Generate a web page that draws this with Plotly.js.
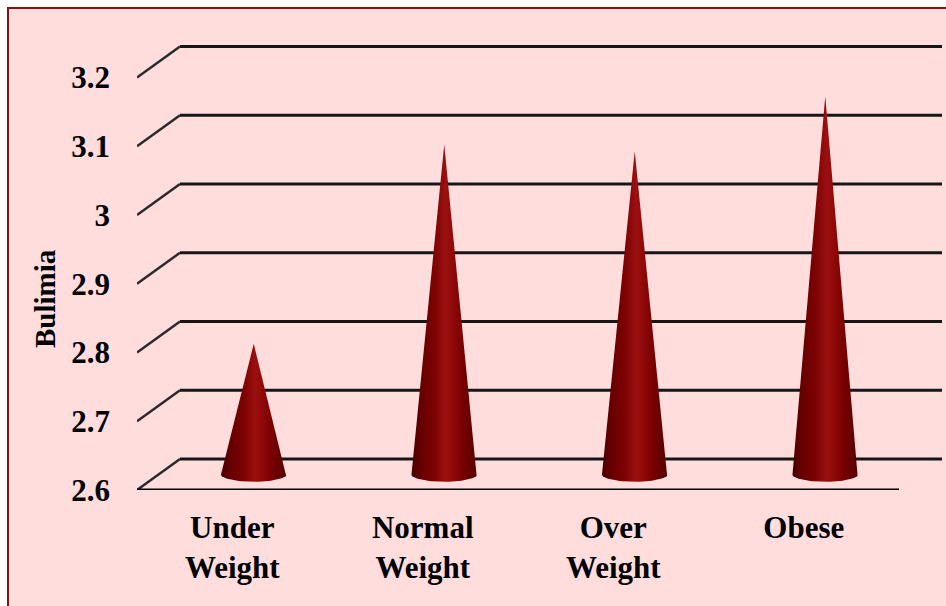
<!DOCTYPE html>
<html>
<head>
<meta charset="utf-8">
<script src="https://cdn.plot.ly/plotly-3.0.1.min.js"></script>
<style>html,body{margin:0;padding:0;background:#fff;}#chart{width:946px;height:606px;}</style>
</head>
<body>
<div id="chart"></div>
<script>
// ---- data ----
const categories = ['Under Weight', 'Normal Weight', 'Over Weight', 'Obese'];
const categoryLabels = ['Under<br>Weight', 'Normal<br>Weight', 'Over<br>Weight', 'Obese'];
const bulimia = [2.79, 3.08, 3.07, 3.15];
const yTicks = [2.6, 2.7, 2.8, 2.9, 3.0, 3.1, 3.2];
const yTickLabels = ['2.6', '2.7', '2.8', '2.9', '3', '3.1', '3.2'];

// ---- pseudo-3D geometry (style) ----
const FLOOR = 2.6;
const DX = 0.2257;     // depth offset along x (category units)
const DY = 0.0451;     // depth offset along y (value units)
const HALF = 0.172;    // cone base half width
const RY = 0.0105;     // cone base ellipse vertical radius
const X0 = -0.5, X1 = categories.length - 0.5;

const W = 946, H = 606;
const M = {l: 137, r: 4, t: 40, b: 116};
const PW = W - M.l - M.r, PH = H - M.t - M.b;
const YTOP = FLOOR + PH / 687.5;

const traces = [];

// back wall gridlines
const gx = [], gy = [];
yTicks.forEach(t => { gx.push(X0 + DX, X1 + DX, null); gy.push(t + DY, t + DY, null); });
traces.push({x: gx, y: gy, mode: 'lines', line: {color: '#161616', width: 3}, hoverinfo: 'skip', showlegend: false, cliponaxis: false});

// side diagonals
const dxs = [], dys = [];
yTicks.forEach(t => { dxs.push(X0, X0 + DX, null); dys.push(t, t + DY, null); });
traces.push({x: dxs, y: dys, mode: 'lines', line: {color: '#2a2a2a', width: 2.5}, hoverinfo: 'skip', showlegend: false, cliponaxis: false});

// front floor edge
traces.push({x: [X0, X1], y: [FLOOR, FLOOR], mode: 'lines', line: {color: '#000', width: 3}, hoverinfo: 'skip', showlegend: false, cliponaxis: false});

// cones
const coneScale = [
  [0, '#480000'], [0.12, '#620000'], [0.35, '#7e0202'], [0.52, '#9a1010'],
  [0.6, '#940b0b'], [0.78, '#780000'], [1, '#540000']
];
bulimia.forEach((v, i) => {
  const cx = i + DX / 2, cy = FLOOR + DY / 2;
  const xs = [cx], ys = [v + DY / 2];
  const N = 40;
  for (let k = 0; k <= N; k++) {
    const a = Math.PI * k / N;
    xs.push(cx + HALF * Math.cos(a));
    ys.push(cy - RY * Math.sin(a));
  }
  xs.push(cx); ys.push(v + DY / 2);
  traces.push({
    x: xs, y: ys, mode: 'lines', fill: 'toself',
    line: {width: 0, color: '#6a0000'},
    fillcolor: '#8b0000',
    fillgradient: {type: 'horizontal', colorscale: coneScale, start: cx - HALF, stop: cx + HALF},
    name: categories[i], hoverinfo: 'skip', showlegend: false
  });
});

// background frame in paper coords from pixel values
const px = p => (p - M.l) / PW;
const py = p => (H - M.b - p) / PH;

const fam = 'Liberation Serif, Times New Roman, serif';
const yFont = {family: fam, size: 31, color: '#000', weight: 700};
const xFont = {family: fam, size: 31, color: '#000', weight: 700};

const layout = {
  width: W, height: H,
  margin: M,
  paper_bgcolor: '#ffffff',
  plot_bgcolor: 'rgba(0,0,0,0)',
  showlegend: false,
  hovermode: false,
  font: {family: fam, size: 30, color: '#000'},
  xaxis: {
    range: [X0, X1 + DX], tickvals: categories.map((c, i) => i), ticktext: categoryLabels,
    showgrid: false, zeroline: false, showline: false, ticks: '', tickfont: xFont,
    ticklabelstandoff: 16, fixedrange: true
  },
  yaxis: {
    range: [FLOOR, YTOP], tickvals: yTicks, ticktext: yTickLabels,
    showgrid: false, zeroline: false, showline: false, ticks: '', tickfont: yFont,
    ticklabelstandoff: 26, fixedrange: true
  },
  shapes: [{
    type: 'rect', xref: 'paper', yref: 'paper', layer: 'below',
    x0: px(8), x1: px(965), y0: py(625), y1: py(8),
    fillcolor: '#ffdddd', line: {color: '#8b1010', width: 2}
  }],
  annotations: [{
    xref: 'paper', yref: 'paper', x: px(45), y: py(299), text: 'Bulimia',
    textangle: -90, showarrow: false, xanchor: 'center', yanchor: 'middle',
    font: {family: fam, size: 29, color: '#000', weight: 700}
  }]
};

Plotly.newPlot('chart', traces, layout, {displayModeBar: false, staticPlot: true});
</script>
</body>
</html>
